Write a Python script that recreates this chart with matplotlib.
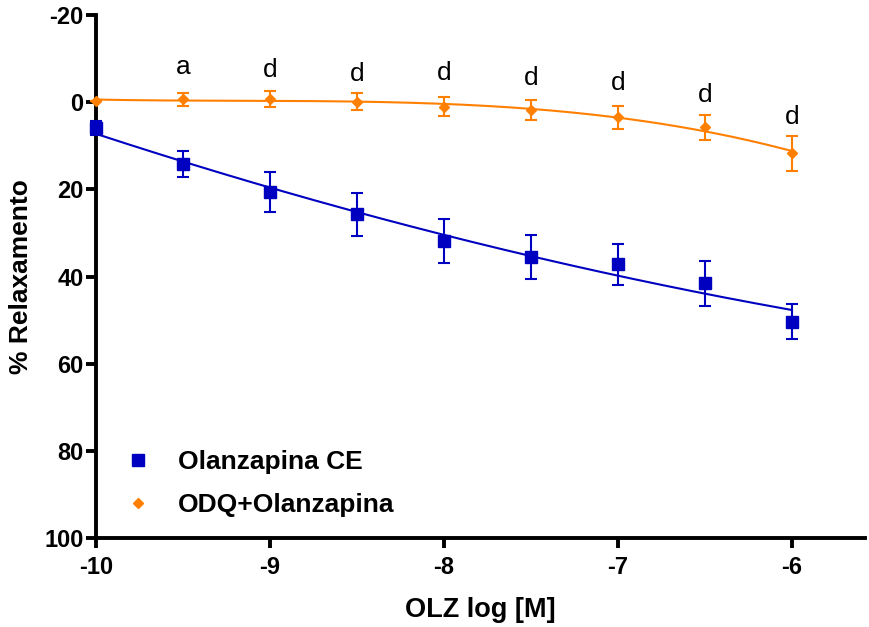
import numpy as np
import matplotlib
matplotlib.use("Agg")
import matplotlib.pyplot as plt
from matplotlib.lines import Line2D

plt.rcParams['font.family'] = ['Liberation Sans', 'DejaVu Sans']
plt.rcParams['axes.unicode_minus'] = False

# Datos
log_olz = [-10, -9.5, -9, -8.5, -8, -7.5, -7, -6.5, -6]

ce_media = [5.9, 14.2, 20.6, 25.7, 31.8, 35.5, 37.2, 41.6, 50.4]
ce_err = [1.6, 2.9, 4.5, 4.9, 5.0, 5.0, 4.7, 5.1, 4.0]

odq_media = [-0.3, -0.7, -0.7, -0.1, 1.0, 1.8, 3.5, 5.8, 11.7]
odq_err = [0.0, 1.5, 1.8, 1.9, 2.2, 2.2, 2.6, 2.8, 4.0]

letras = ['a', 'd', 'd', 'd', 'd', 'd', 'd', 'd']
letras_x = [-9.5, -9, -8.5, -8, -7.5, -7, -6.5, -6]
letras_y = [-8.0, -7.4, -6.5, -6.7, -5.6, -4.4, -1.7, 3.4]

azul = '#0000C0'
naranja = '#FF8000'

fig = plt.figure(figsize=(8.69, 6.27), dpi=100, facecolor='white')
ax = fig.add_axes([96 / 869, 1 - 538 / 627, (865 - 96) / 869, (538 - 15) / 627])

# Curvas ajustadas (ajuste polinomial de los datos)
xs = np.linspace(-10, -6, 200)
ajuste_ce = np.polyval(np.polyfit(log_olz, ce_media, 2), xs)
ajuste_odq = np.polyval(np.polyfit(log_olz, odq_media, 3), xs)
ax.plot(xs, ajuste_ce, color=azul, linewidth=1.5, zorder=2)
ax.plot(xs, ajuste_odq, color=naranja, linewidth=1.5, zorder=2)

# Puntos con barras de error
ax.errorbar(log_olz, ce_media, yerr=ce_err, fmt='s', color=azul,
            markersize=8, elinewidth=1.5, capsize=4.5, capthick=1.5,
            clip_on=False, zorder=3)
ax.errorbar(log_olz, odq_media, yerr=odq_err, fmt='D', color=naranja,
            markersize=5.5, elinewidth=1.5, capsize=4.5, capthick=1.5,
            clip_on=False, zorder=3)

for lx, ly, txt in zip(letras_x, letras_y, letras):
    ax.text(lx, ly, txt, ha='center', va='center', fontsize=19, color='black')

ax.set_xlim(-10, -5.58)
ax.set_ylim(100, -20)
ax.set_xticks([-10, -9, -8, -7, -6])
ax.set_yticks([-20, 0, 20, 40, 60, 80, 100])

for s in ['top', 'right']:
    ax.spines[s].set_visible(False)
for s in ['left', 'bottom']:
    ax.spines[s].set_linewidth(2.8)
ax.tick_params(axis='both', which='major', width=2.8, length=7, labelsize=17,
               direction='out')
ax.tick_params(axis='x', pad=6)
ax.tick_params(axis='y', pad=2)
for lbl in ax.get_xticklabels() + ax.get_yticklabels():
    lbl.set_fontweight('bold')

ax.set_xlabel('OLZ log [M]', fontsize=19.5, fontweight='bold', labelpad=13)
ax.set_ylabel('% Relaxamento', fontsize=19, fontweight='bold', labelpad=8)

manejadores = [
    Line2D([], [], linestyle='none', marker='s', color=azul, markersize=8),
    Line2D([], [], linestyle='none', marker='D', color=naranja, markersize=5.5),
]
ax.legend(manejadores, ['Olanzapina CE', 'ODQ+Olanzapina'],
          loc='center left', bbox_to_anchor=(0.0377, 0.104), frameon=False,
          prop={'size': 19, 'weight': 'bold'}, handlelength=1.0,
          handletextpad=1.02, labelspacing=0.72, borderpad=0,
          borderaxespad=0)

fig.savefig('out.png', dpi=100, facecolor='white')
